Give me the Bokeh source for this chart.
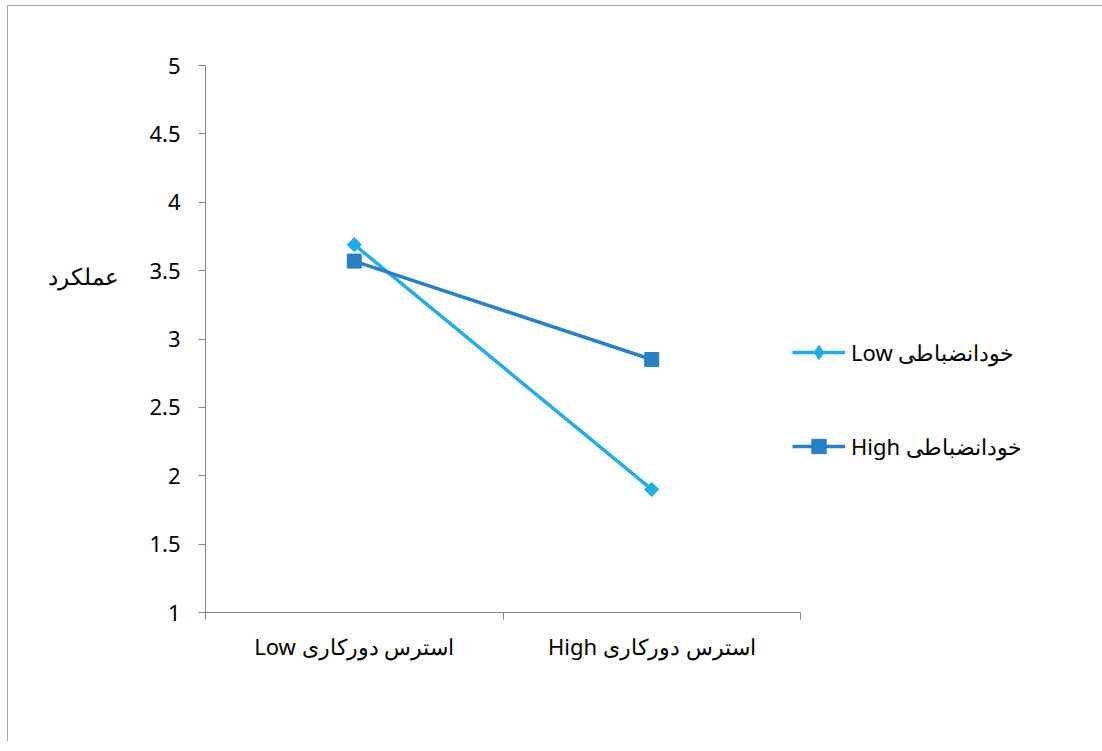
from math import pi
from bokeh.plotting import figure
from bokeh.models import FixedTicker, Range1d, Legend, LegendItem, LinearAxis, NumeralTickFormatter
from bokeh.embed import file_html
from bokeh.resources import INLINE

categories = ["استرس دورکاری Low", "استرس دورکاری High"]
series_names = ["خودانضباطی Low", "خودانضباطی High"]
low_values = [3.69, 1.90]
high_values = [3.57, 2.85]
y_ticks = [1, 1.5, 2, 2.5, 3, 3.5, 4, 4.5, 5]
y_label = "عملکرد"

LOW_COLOR = "#1FAEE5"
HIGH_COLOR = "#2A80C6"
AXIS_COLOR = "#888888"
FONT = "Noto Sans"
YLABEL_POS = 3.46  # vertical placement of the y-axis title (data units)


def rtl(s):
    # right-to-left embedding so mixed Persian/Latin text reads as in the original
    return "\u202B" + s + "\u202C"


xs = [i + 0.5 for i in range(len(categories))]
boundaries = [i for i in range(len(categories) + 1)]

p = figure(width=1086, height=735, output_backend="svg", toolbar_location=None,
           x_range=Range1d(0, len(categories)), y_range=Range1d(y_ticks[0], y_ticks[-1]),
           frame_width=595, frame_height=547,
           min_border_left=197, min_border_top=59, min_border_right=294, min_border_bottom=129)
p.styles = {"border-left": "1px solid #a6a6a6", "border-top": "1px solid #a6a6a6",
            "margin-left": "7px", "margin-top": "5px"}
p.outline_line_color = None
p.xgrid.visible = False
p.ygrid.visible = False

# y axis
p.yaxis.ticker = FixedTicker(ticks=y_ticks, minor_ticks=[])
p.yaxis.formatter = NumeralTickFormatter(format="0.[0]")
p.yaxis.axis_line_color = AXIS_COLOR
p.yaxis.major_tick_line_color = AXIS_COLOR
p.yaxis.major_tick_in = 0
p.yaxis.major_tick_out = 7
p.yaxis.major_label_standoff = 18
p.yaxis.major_label_text_font = FONT
p.yaxis.major_label_text_font_size = "22px"
p.yaxis.major_label_text_color = "#000000"

# y-axis title as a horizontal label at a chosen height
title_axis = LinearAxis(ticker=FixedTicker(ticks=[YLABEL_POS], minor_ticks=[]),
                        major_label_overrides={YLABEL_POS: y_label},
                        axis_line_color=None, major_tick_line_color=None,
                        major_tick_in=0, major_tick_out=0, minor_tick_line_color=None,
                        major_label_standoff=28,
                        major_label_text_font=FONT, major_label_text_font_size="23px",
                        major_label_text_color="#000000")
p.add_layout(title_axis, "left")

# x axis
p.xaxis.ticker = FixedTicker(ticks=xs, minor_ticks=boundaries)
p.xaxis.major_label_overrides = {x: rtl(c) for x, c in zip(xs, categories)}
p.xaxis.axis_line_color = AXIS_COLOR
p.xaxis.major_tick_line_color = None
p.xaxis.major_tick_in = 0
p.xaxis.major_tick_out = 0
p.xaxis.minor_tick_line_color = AXIS_COLOR
p.xaxis.minor_tick_in = 0
p.xaxis.minor_tick_out = 7
p.xaxis.major_label_standoff = 11
p.xaxis.major_label_text_font = FONT
p.xaxis.major_label_text_font_size = "22px"
p.xaxis.major_label_text_color = "#000000"

# series
r_low_line = p.line(xs, low_values, line_color=LOW_COLOR, line_width=3.5)
p.scatter(xs, low_values, marker="square", angle=pi / 4, size=10,
          fill_color=LOW_COLOR, line_color=LOW_COLOR)
r_high_line = p.line(xs, high_values, line_color=HIGH_COLOR, line_width=3.5)
r_high_pts = p.scatter(xs, high_values, marker="square", size=14,
                       fill_color=HIGH_COLOR, line_color=HIGH_COLOR)
# legend-only key (NaN position, nothing drawn in the plot) so the legend shows a diamond
r_low_key = p.scatter(x=[float("nan")], y=[float("nan")], marker="diamond", size=14,
                      fill_color=LOW_COLOR, line_color=LOW_COLOR)

legend = Legend(items=[
    LegendItem(label=rtl(series_names[0]), renderers=[r_low_line, r_low_key]),
    LegendItem(label=rtl(series_names[1]), renderers=[r_high_line, r_high_pts]),
], location=(-8, 148), orientation="vertical",
    glyph_width=53, glyph_height=36, label_height=36, label_standoff=6,
    spacing=58, padding=0, margin=0,
    border_line_color=None, background_fill_alpha=0,
    label_text_font=FONT, label_text_font_size="22px", label_text_color="#000000")
p.add_layout(legend, "right")

open("out.html", "w").write(file_html(p, INLINE))
